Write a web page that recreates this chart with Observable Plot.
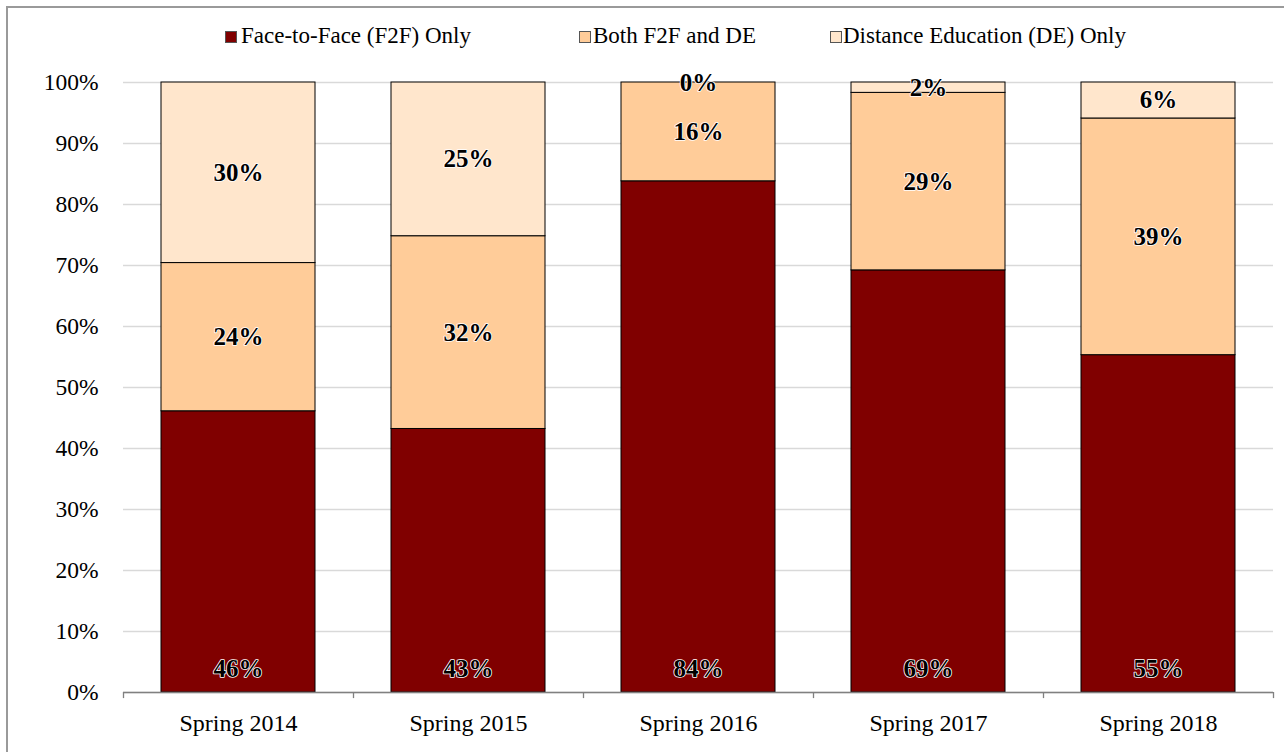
<!DOCTYPE html>
<html>
<head>
<meta charset="utf-8">
<script src="https://cdn.jsdelivr.net/npm/d3@7"></script>
<script src="https://cdn.jsdelivr.net/npm/@observablehq/plot@0.6"></script>
<style>
  html, body { margin: 0; padding: 0; background: #fff; overflow: hidden; }
  #wrap { position: relative; width: 1284px; height: 752px; overflow: hidden; }
  #frame { position: absolute; left: 6px; top: 6px; width: 1400px; height: 900px; border: 2px solid #9a9a9a; box-sizing: border-box; pointer-events: none; z-index: 3; }
  #chart { position: absolute; left: 0; top: 0; z-index: 1; }
  #legend { position: absolute; left: 0; top: 0; z-index: 2; }
</style>
</head>
<body>
<div id="wrap">
  <div id="frame"></div>
  <div id="chart"></div>
  <div id="legend"></div>
</div>
<script>
const years = ["Spring 2014", "Spring 2015", "Spring 2016", "Spring 2017", "Spring 2018"];
const seriesNames = ["Face-to-Face (F2F) Only", "Both F2F and DE", "Distance Education (DE) Only"];
const f2fOnly = [46.1, 43.2, 83.8, 69.2, 55.3];
const bothF2FDE = [24.3, 31.6, 16.2, 29.1, 38.8];
const deOnly = [29.6, 25.2, 0.0, 1.7, 5.9];
const seriesColors = ["#800000", "#FFCC99", "#FFE6CC"];
const yTicks = [0, 10, 20, 30, 40, 50, 60, 70, 80, 90, 100];

const seriesValues = [f2fOnly, bothF2FDE, deOnly];
const rows = [];
years.forEach((year, i) => {
  seriesNames.forEach((s, j) => rows.push({year, series: s, value: seriesValues[j][i]}));
});

const font = "'Liberation Serif', 'Times New Roman', serif";

// Legend (SVG overlay, same font as the chart)
const legendLayout = [[225, 241], [579, 593], [830, 843]];
const lsvg = d3.select("#legend").append("svg").attr("width", 1284).attr("height", 60)
  .style("font-family", font).style("font-size", "23px");
seriesNames.forEach((s, j) => {
  lsvg.append("rect").attr("x", legendLayout[j][0] + 0.5).attr("y", 31.5).attr("width", 11).attr("height", 11)
    .attr("fill", seriesColors[j]).attr("stroke", "#555").attr("stroke-width", 1);
  lsvg.append("text").attr("x", legendLayout[j][1]).attr("y", 43).attr("fill", "#000").text(s);
});

const W = 1284, H = 752, mL = 123, mR = 11;
const step = (W - mL - mR) / years.length;
const F2F = seriesNames[0];

const labelStyle = {
  fill: "#000", stroke: "#fff", strokeWidth: 1.6,
  fontWeight: "bold", fontSize: 25, fontFamily: font, lineAnchor: "middle"
};

const plot = Plot.plot({
  width: W,
  height: H,
  marginLeft: mL,
  marginRight: mR,
  marginTop: 82,
  marginBottom: 60,
  style: {background: "transparent", fontFamily: font, fontSize: "23px", color: "#000"},
  x: {domain: years, paddingInner: 0.33, paddingOuter: 0.165, label: null},
  y: {domain: [0, 100], label: null},
  color: {domain: seriesNames, range: seriesColors},
  marks: [
    Plot.gridY(yTicks, {stroke: "#d9d9d9", strokeOpacity: 1, strokeWidth: 1.3}),
    Plot.barY(rows, {x: "year", y: "value", fill: "series", z: "series", stroke: "#000", strokeWidth: 1}),
    Plot.ruleY([0], {stroke: "#808080", strokeWidth: 1.3}),
    Plot.ruleX(years, {x: d => d, dx: -step / 2, y1: 0, y2: -1, stroke: "#808080", strokeWidth: 1.3}),
    Plot.ruleX([years[years.length - 1]], {x: d => d, dx: step / 2, y1: 0, y2: -1, stroke: "#808080", strokeWidth: 1.3}),
    Plot.axisY(yTicks, {tickSize: 0, tickPadding: 25, tickFormat: d => d + "%", fontSize: 23.5, fontFamily: font, label: null}),
    Plot.axisX({tickSize: 0, tickPadding: 21, fontSize: 24, fontFamily: font, label: null}),
    Plot.text(rows, Plot.stackY({
      x: "year", y: "value", z: "series",
      text: d => d.series === F2F ? null : Math.round(d.value) + "%",
      ...labelStyle
    })),
    Plot.text(rows.filter(d => d.series === F2F), {
      x: "year", frameAnchor: "bottom", dy: -24,
      text: d => Math.round(d.value) + "%",
      ...labelStyle
    })
  ]
});
document.getElementById("chart").appendChild(plot);
</script>
</body>
</html>
